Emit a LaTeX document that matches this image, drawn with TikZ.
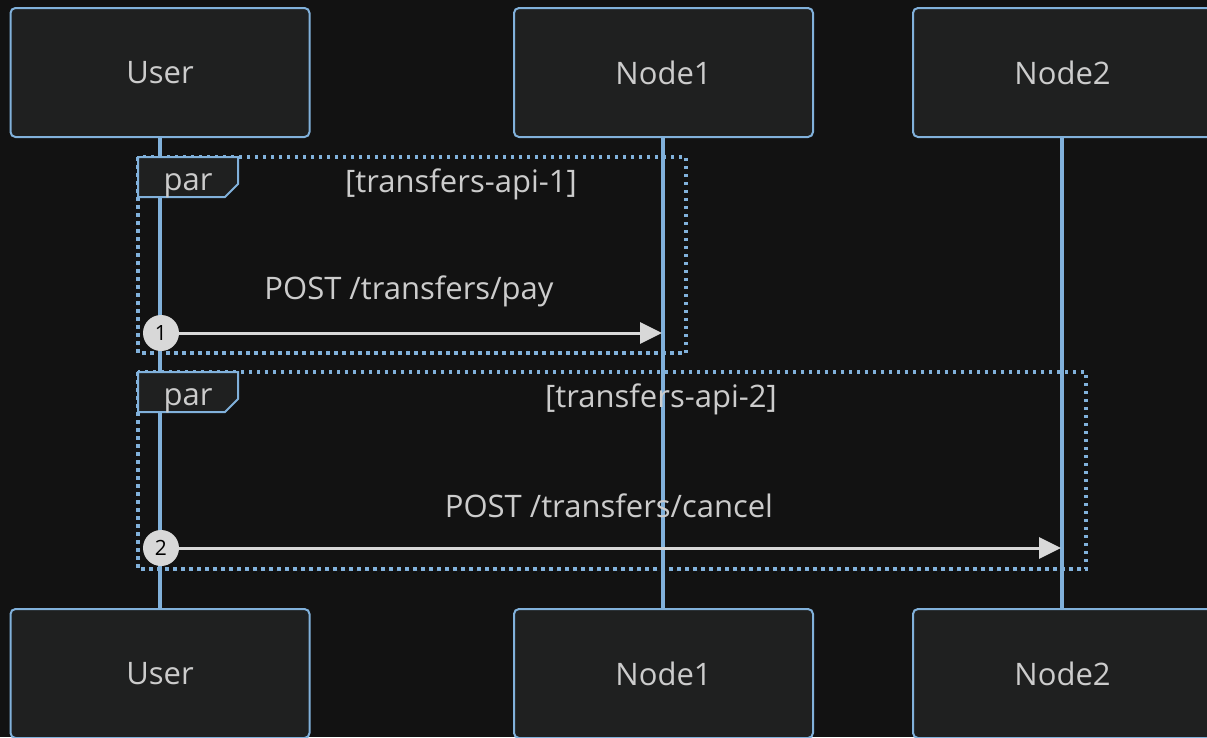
\documentclass[tikz,border=0pt]{standalone}
\usepackage{fontspec}
\setmainfont{Open Sans}
\usetikzlibrary{arrows.meta}
\definecolor{bg}{HTML}{121212}
\definecolor{boxfill}{HTML}{1F2020}
\definecolor{lblue}{HTML}{81B1DB}
\definecolor{txt}{HTML}{CCCCCC}
\definecolor{arr}{HTML}{D8D8D8}
\tikzset{
  actor/.style={draw=lblue, line width=2pt, fill=boxfill, rounded corners=5pt, minimum width=299pt, minimum height=129pt, inner sep=0pt, text=txt, font=\fontsize{31}{36}\selectfont},
  life/.style={draw=lblue, line width=4pt},
  frame/.style={draw=lblue, line width=3.5pt, dash pattern=on 3.5pt off 4.5pt},
  parbox/.style={draw=lblue, line width=2pt, fill=boxfill},
  lbl/.style={text=txt, font=\fontsize{31}{36}\selectfont, inner sep=0pt},
  msg/.style={draw=arr, line width=3pt, -{Triangle[length=22pt,width=21pt]}},
  seq/.style={circle, fill=arr, minimum size=36pt, inner sep=0pt, text=black, font=\fontsize{21}{24}\selectfont}
}
\begin{document}
\begin{tikzpicture}[x=1pt,y=-1pt]
\useasboundingbox (0,0) rectangle (1207,737);
\clip (0,0) rectangle (1207,737);
\fill[bg] (0,0) rectangle (1207,737);
% lifelines
\coordinate (u1) at (160,137); \coordinate (u2) at (160,609);
\coordinate (n1a) at (663,137); \coordinate (n1b) at (663,609);
\coordinate (n2a) at (1062,137); \coordinate (n2b) at (1062,609);
\draw[life] (u1) -- (u2);
\draw[life] (n1a) -- (n1b);
\draw[life] (n2a) -- (n2b);
% actors
\node[actor] (userT) at (160,72.5) {User};
\node[actor] (node1T) at (663.5,72.5) {Node1};
\node[actor] (node2T) at (1062.5,72.5) {Node2};
\node[actor] (userB) at (160,673.5) {User};
\node[actor] (node1B) at (663.5,673.5) {Node1};
\node[actor] (node2B) at (1062.5,673.5) {Node2};
% par frame 1
\draw[frame] (138,157) rectangle (686,353);
\draw[parbox] (138,157) -- (238,157) -- (238,184) -- (225,197) -- (138,197) -- cycle;
\node[lbl] (par1) at (188,186) {par};
\node[lbl] (cond1) at (461,184) {[transfers-api-1]};
% par frame 2
\draw[frame] (138,372) rectangle (1086,569);
\draw[parbox] (138,372) -- (238,372) -- (238,399) -- (225,412) -- (138,412) -- cycle;
\node[lbl] (par2) at (188,401) {par};
\node[lbl] (cond2) at (661,399) {[transfers-api-2]};
% messages
\coordinate (m1s) at (160,333); \coordinate (m1e) at (662,333);
\coordinate (m2s) at (160,548); \coordinate (m2e) at (1061,548);
\node[lbl] (t1) at (409,291) {POST /transfers/pay};
\node[lbl] (t2) at (609,506) {POST /transfers/cancel};
\draw[msg] (m1s) -- (m1e);
\draw[msg] (m2s) -- (m2e);
\node[seq] (s1) at (161,333) {1};
\node[seq] (s2) at (161,548) {2};
\end{tikzpicture}
\end{document}
